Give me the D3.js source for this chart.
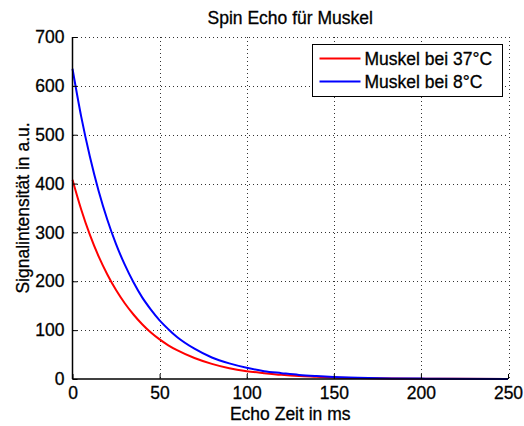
<!DOCTYPE html>
<html lang="en">
<meta charset="utf-8"/>
<head>
<script src="https://d3js.org/d3.v7.min.js"></script>
</head>
<style>
  body { margin: 0; background: #fff; }
  text { font-family: "Liberation Sans", Arial, sans-serif; fill: #000; stroke: #000; stroke-width: 0.3px; }
  .grid line { stroke: #333; stroke-dasharray: 1,3; shape-rendering: crispEdges; }
</style>
<body>
<script>
// values
var echoTime = [0, 5, 10, 15, 20, 25, 30, 35, 40, 45, 50, 55, 60, 70, 80, 90, 100, 110, 120, 130, 140, 150, 170, 200, 250];
var muskel37 = [408, 347, 295, 251, 214, 182, 155, 132, 112, 95, 81, 69, 59, 43, 31, 22, 16, 12, 8.5, 6, 4.5, 3, 1.7, 0.6, 0.1];
var muskel8  = [635, 537, 455, 385, 326, 276, 234, 198, 167, 142, 120, 102, 86, 62, 44, 32, 23, 16, 12, 8.3, 6, 4.3, 2.2, 0.8, 0.2];
var xTicks = [0, 50, 100, 150, 200, 250];
var yTicks = [0, 100, 200, 300, 400, 500, 600, 700];
var seriesNames = ["Muskel bei 37°C", "Muskel bei 8°C"];
var seriesColors = ["#ff0000", "#0000ff"];

var margin = {top: 37, right: 16, bottom: 47, left: 72.5},
    W = 524, H = 426,
    width = W - margin.left - margin.right,
    height = H - margin.top - margin.bottom;

var svg = d3.select("body").append("svg")
    .attr("width", W).attr("height", H);
var g = svg.append("g")
    .attr("transform", "translate(" + margin.left + "," + margin.top + ")");

var x = d3.scaleLinear().domain([0, 250]).range([0, width]);
var y = d3.scaleLinear().domain([0, 700]).range([height, 0]);

// grid
g.append("g").attr("class", "grid")
  .selectAll("line").data(xTicks.slice(1)).enter().append("line")
  .attr("x1", d => Math.round(x(d)) + 0.5).attr("x2", d => Math.round(x(d)) + 0.5)
  .attr("y1", 0).attr("y2", height);
g.append("g").attr("class", "grid")
  .selectAll("line").data(yTicks.slice(1)).enter().append("line")
  .attr("y1", d => Math.round(y(d)) + 0.5).attr("y2", d => Math.round(y(d)) + 0.5)
  .attr("x1", 0).attr("x2", width);

// curves
var series = [muskel37, muskel8];
var line = d3.line()
    .x(d => x(d[0])).y(d => y(d[1]))
    .curve(d3.curveMonotoneX);
series.forEach(function(s, i) {
  g.append("path")
    .datum(echoTime.map((t, j) => [t, s[j]]))
    .attr("fill", "none")
    .attr("stroke", seriesColors[i])
    .attr("stroke-width", 2)
    .attr("d", line);
});

// axes
var xAxis = g.append("g")
  .attr("transform", "translate(0," + height + ")")
  .call(d3.axisBottom(x).tickValues(xTicks).tickSize(-5).tickPadding(8));
var yAxis = g.append("g")
  .call(d3.axisLeft(y).tickValues(yTicks).tickSize(-5).tickPadding(8));
[xAxis, yAxis].forEach(function(a) {
  a.select(".domain").attr("stroke", "#000").attr("stroke-width", 1.5);
  a.selectAll(".tick line").attr("stroke", "#000");
  a.selectAll(".tick text").style("font-size", "17.5px")
    .style("font-family", "'Liberation Sans', Arial, sans-serif");
});
// only left and bottom axis lines (remove outer tick end caps)
xAxis.select(".domain").attr("d", "M0,0H" + width);
yAxis.select(".domain").attr("d", "M0," + height + "V0");

// title and labels
svg.append("text")
  .attr("x", margin.left + width / 2).attr("y", 24)
  .attr("text-anchor", "middle").style("font-size", "17.5px")
  .text("Spin Echo für Muskel");
svg.append("text")
  .attr("x", margin.left + width / 2).attr("y", 420)
  .attr("text-anchor", "middle").style("font-size", "17.5px")
  .text("Echo Zeit in ms");
svg.append("text")
  .attr("transform", "translate(28.5," + (margin.top + height / 2) + ") rotate(-90)")
  .attr("text-anchor", "middle").style("font-size", "17.5px")
  .text("Signalintensität in a.u.");

// legend
var lg = svg.append("g").attr("transform", "translate(312.5,44.5)");
lg.append("rect").attr("width", 190).attr("height", 52)
  .attr("fill", "#fff").attr("stroke", "#000").attr("stroke-width", 1);
seriesNames.forEach(function(n, i) {
  var yy = 14 + i * 23;
  lg.append("line").attr("x1", 7).attr("x2", 48).attr("y1", yy).attr("y2", yy)
    .attr("stroke", seriesColors[i]).attr("stroke-width", 2);
  lg.append("text").attr("x", 52).attr("y", yy + 6)
    .style("font-size", "17.5px").text(n);
});
</script>
</body>
</html>
